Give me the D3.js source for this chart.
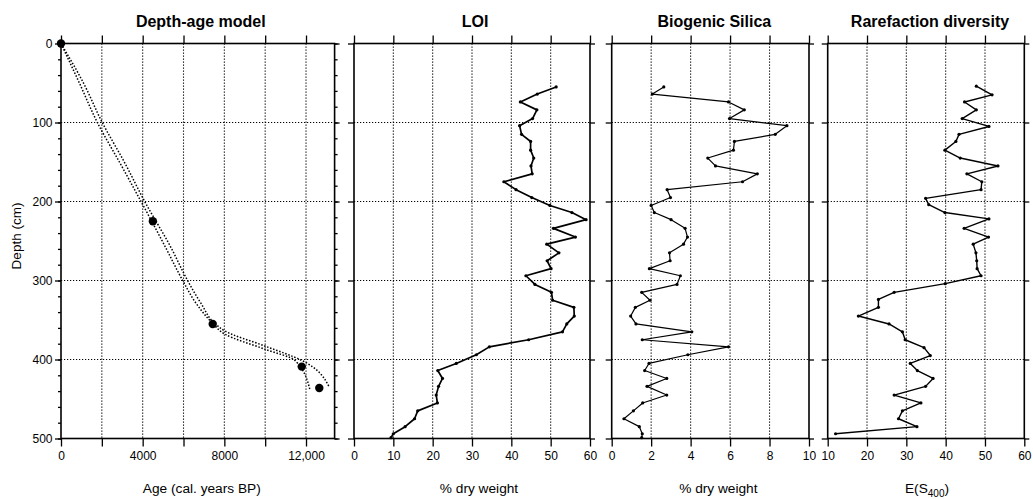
<!DOCTYPE html>
<html><head><meta charset="utf-8">
<script src="https://cdn.jsdelivr.net/npm/d3@7"></script>
<style>body{margin:0;background:#fff} text{font-family:"Liberation Sans",Arial,Helvetica,sans-serif;fill:#000}</style>
</head><body>
<svg id="c" width="1033" height="499"></svg>
<script>
// ---------- data ----------
const depthTicks = [0, 100, 200, 300, 400, 500];
const depthMinor = [0,20,40,60,80,100,120,140,160,180,200,220,240,260,280,300,320,340,360,380,400,420,440,460,480,500];
const ageTicks = [0, 2000, 4000, 6000, 8000, 10000, 12000];
const ageLabels = ["0", "", "4000", "", "8000", "", "12,000"];
const loiTicks = [0, 10, 20, 30, 40, 50, 60];
const bsiTicks = [0, 2, 4, 6, 8, 10];
const divTicks = [10, 20, 30, 40, 50, 60];

const datedDepth = [0, 225, 355, 409, 436];
const datedAge = [0, 4500, 7430, 11790, 12650];
const modelYoungDepth = [0, 50, 100, 150, 200, 257, 300, 329, 354, 368, 387, 401, 438];
const modelYoungAge = [0, 900, 1780, 2860, 3920, 5100, 5960, 6620, 7420, 8030, 9990, 11450, 12190];
const modelOldDepth = [0, 50, 100, 150, 200, 257, 300, 329, 355, 364, 383, 401, 435];
const modelOldAge = [0, 1100, 2020, 3100, 4100, 5360, 6200, 6860, 7560, 8030, 9990, 11780, 13140];

const loiDepth = [55,64,74,84,95,104,115,124,135,145,155,165,175,185,195,205,214,223,234,245,254,265,275,285,294,305,315,325,334,345,355,365,375,384,394,405,414,424,434,445,455,465,475,485,494,499];
const loiValue = [51.4,46.6,42.3,46.5,45.4,42.1,42.6,44.9,44.9,45.7,45.0,45.3,38.1,41.2,45.2,49.8,55.4,59.0,50.7,56.3,49.0,52.1,49.1,50.1,43.7,46.0,50.2,50.5,55.9,56.0,54.1,53.0,44.4,34.4,31.1,26.0,21.3,22.5,21.5,20.9,21.2,16.2,15.4,13.0,10.0,9.4];
const bsiValue = [2.64,2.06,5.92,6.72,5.97,8.88,8.29,6.22,6.17,4.87,5.26,7.38,6.63,2.81,2.98,2.0,2.16,3.01,3.72,3.84,3.64,2.93,2.96,1.91,3.48,3.31,1.52,1.94,1.2,0.96,1.23,4.06,1.55,5.92,3.86,1.89,1.67,2.79,1.79,2.79,1.57,1.1,0.62,1.4,1.55,1.52];
const divDepth = [54,65,74,84,95,105,115,124,135,145,155,165,175,185,196,204,214,222,234,245,254,265,275,285,294,304,315,324,334,345,355,365,375,385,395,405,414,424,434,445,455,465,475,485,494];
const divValue = [47.8,51.8,44.8,47.8,44.2,51.0,43.4,42.6,39.8,43.7,53.3,45.4,49.2,49.0,34.9,35.7,39.8,51.0,44.7,50.9,47.0,47.7,47.9,48.0,49.0,39.9,26.9,22.9,22.9,17.8,25.6,29.0,29.7,34.5,36.1,31.0,32.8,36.8,34.9,26.9,33.7,29.0,28.0,32.7,12.0];

// ---------- layout ----------
const svg = d3.select("#c");
const y = d3.scaleLinear().domain([0, 500]).range([43.5, 438.5]);
const panels = [
  {title: "Depth-age model", x: d3.scaleLinear().domain([0, 13400]).range([61, 334.6]), ticks: ageTicks, labels: ageLabels, xlabel: "Age (cal. years BP)", tdx: 3, ldx: 4},
  {title: "LOI", x: d3.scaleLinear().domain([0, 60]).range([354, 590]), ticks: loiTicks, xlabel: "% dry weight", tdx: 3, ldx: 7,
   depth: loiDepth, vals: loiValue, w: 1.7},
  {title: "Biogenic Silica", x: d3.scaleLinear().domain([0, 10]).range([611.7, 809]), ticks: bsiTicks, xlabel: "% dry weight", tdx: 4, ldx: 8,
   depth: loiDepth, vals: bsiValue, w: 1.2},
  {title: "Rarefaction diversity", x: d3.scaleLinear().domain([10, 60]).range([827.7, 1024.3]), ticks: divTicks, xlabel: "E(S400)", tdx: 4, ldx: 1,
   depth: divDepth, vals: divValue, w: 1.4}
];

const gridStyle = g => g.attr("stroke", "#000").attr("stroke-width", 1.1).attr("stroke-dasharray", "1.2,1.8");

panels.forEach((p, i) => {
  const x = p.x;
  const [x0, x1] = x.range();
  const [y0, y1] = y.range();
  const g = svg.append("g");

  // grid
  const grid = g.append("g").call(gridStyle);
  p.ticks.forEach(t => {
    if (t === x.domain()[0] || t === x.domain()[1]) return;
    grid.append("line").attr("x1", x(t)).attr("x2", x(t)).attr("y1", y0).attr("y2", y1);
  });
  depthTicks.forEach(d => {
    if (d === 0 || d === 500) return;
    grid.append("line").attr("x1", x0).attr("x2", x1).attr("y1", y(d)).attr("y2", y(d));
  });

  const axStyle = a => {
    a.select(".domain").remove();
    a.selectAll(".tick line").attr("stroke", "#000").attr("stroke-width", 1.3);
    a.selectAll("text").attr("font-size", 12).attr("fill", "#000")
      .style("font-family", '"Liberation Sans",Arial,sans-serif');
  };

  // top & bottom axes
  g.append("g").attr("transform", `translate(0,${y0})`)
    .call(d3.axisTop(x).tickValues(p.ticks).tickSize(8).tickSizeOuter(0).tickFormat(""))
    .call(axStyle);
  g.append("g").attr("transform", `translate(0,${y1})`)
    .call(d3.axisBottom(x).tickValues(p.ticks).tickSize(8).tickSizeOuter(0).tickPadding(5)
      .tickFormat((d, k) => p.labels ? p.labels[k] : d3.format("d")(d)))
    .call(axStyle);

  // left & right axes
  const left = d3.axisLeft(y).tickValues(depthTicks).tickSize(6).tickSizeOuter(0).tickPadding(2.5);
  if (i !== 0) left.tickFormat("");
  g.append("g").attr("transform", `translate(${x0},0)`).call(left).call(axStyle);
  g.append("g").attr("transform", `translate(${x1},0)`)
    .call(d3.axisRight(y).tickValues(depthTicks).tickSize(5).tickSizeOuter(0).tickFormat(""))
    .call(axStyle);
  if (i === 0) {
    g.append("g").attr("transform", `translate(${x0},0)`)
      .call(d3.axisLeft(y).tickValues(depthMinor).tickSize(3).tickSizeOuter(0).tickFormat(""))
      .call(axStyle);
    g.append("g").attr("transform", `translate(${x1},0)`)
      .call(d3.axisRight(y).tickValues(depthMinor).tickSize(3).tickSizeOuter(0).tickFormat(""))
      .call(axStyle);
  }

  // frame
  g.append("rect").attr("x", x0).attr("y", y0).attr("width", x1 - x0).attr("height", y1 - y0)
    .attr("fill", "none").attr("stroke", "#000").attr("stroke-width", 1.6);

  // title
  g.append("text").attr("x", (x0 + x1) / 2 + p.tdx).attr("y", 27).attr("text-anchor", "middle")
    .attr("font-size", 16).attr("font-weight", "bold").text(p.title);

  // x label
  const xl = g.append("text").attr("x", (x0 + x1) / 2 + p.ldx).attr("y", 493).attr("text-anchor", "middle")
    .attr("font-size", 13.7);
  if (p.xlabel === "E(S400)") {
    xl.append("tspan").text("E(S");
    xl.append("tspan").attr("dy", 4).attr("font-size", 10).text("400");
    xl.append("tspan").attr("dy", -4).text(")");
  } else xl.text(p.xlabel);

  // data
  if (i === 0) {
    const ml = d3.line().curve(d3.curveMonotoneY).x(d => x(d[1])).y(d => y(d[0]));
    [[modelYoungDepth, modelYoungAge], [modelOldDepth, modelOldAge]].forEach(([dd, aa]) => {
      g.append("path").datum(dd.map((d, k) => [d, aa[k]])).attr("d", ml)
        .attr("fill", "none").attr("stroke", "#000").attr("stroke-width", 1.5).attr("stroke-dasharray", "1.5,1.7");
    });
    g.selectAll("circle.dated").data(datedDepth.map((d, k) => [d, datedAge[k]])).join("circle")
      .attr("cx", d => x(d[1])).attr("cy", d => y(d[0])).attr("r", 4.2).attr("fill", "#000");
  } else {
    const data = p.depth.slice(0, p.vals.length).map((d, k) => [d, p.vals[k]]);
    const line = d3.line().x(d => x(d[1])).y(d => y(d[0]));
    g.append("path").datum(data).attr("d", line).attr("fill", "none").attr("stroke", "#000")
      .attr("stroke-width", p.w).attr("stroke-linejoin", "round");
    g.selectAll("circle.pt").data(data).join("circle")
      .attr("cx", d => x(d[1])).attr("cy", d => y(d[0])).attr("r", 1.6).attr("fill", "#000");
  }
});

// y label
svg.append("text").attr("transform", "translate(21,236) rotate(-90)").attr("text-anchor", "middle")
  .attr("font-size", 13.5).text("Depth (cm)");
</script>
</body></html>
